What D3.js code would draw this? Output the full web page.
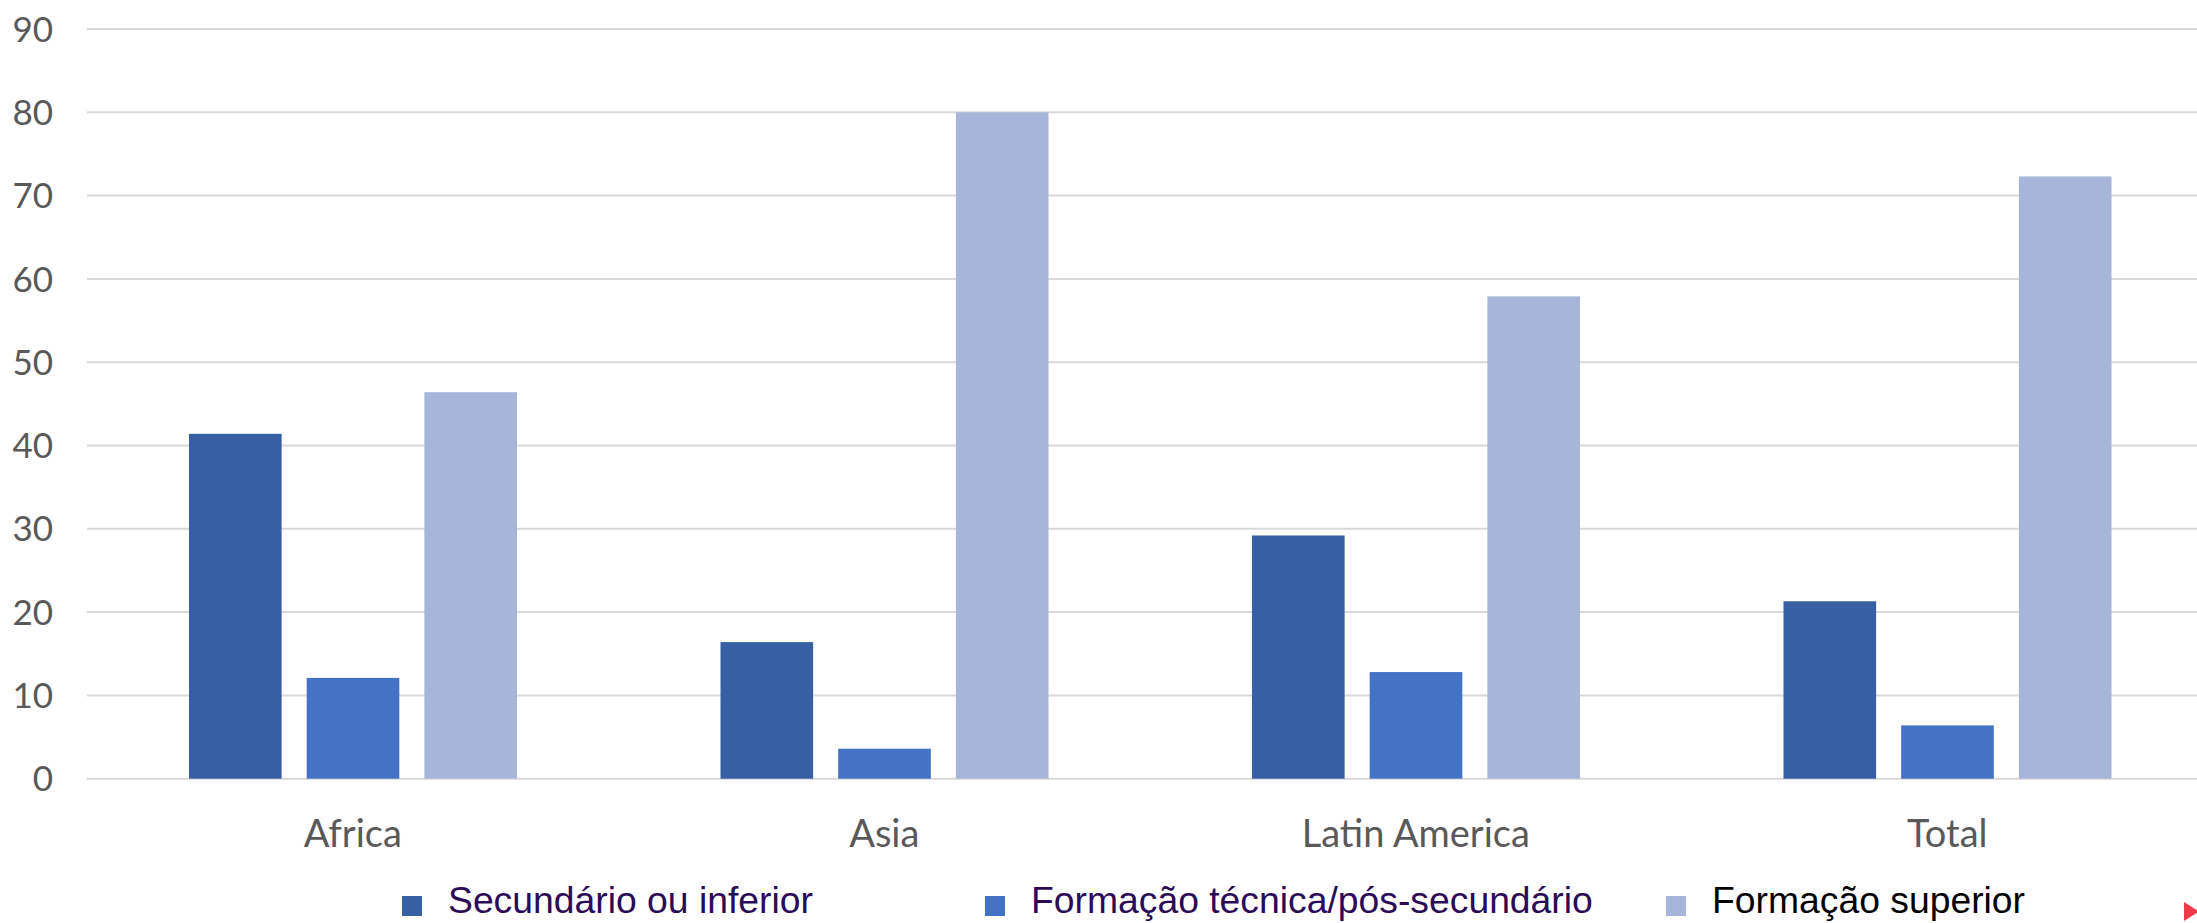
<!DOCTYPE html>
<html>
<head>
<meta charset="utf-8">
<script src="https://cdn.jsdelivr.net/npm/d3@7"></script>
<style>
  html, body { margin: 0; padding: 0; background: #ffffff; }
  svg { display: block; }
</style>
</head>
<body>
<svg id="chart" width="2197" height="923"></svg>
<script>
// ---- data ----
const categories = ["Africa", "Asia", "Latin America", "Total"];
const seriesNames = ["Secundário ou inferior", "Formação técnica/pós-secundário", "Formação superior"];
const secundario = [41.4, 16.4, 29.2, 21.3];
const tecnica = [12.1, 3.6, 12.8, 6.4];
const superior = [46.4, 80.0, 57.9, 72.3];
const yTicks = [0, 10, 20, 30, 40, 50, 60, 70, 80, 90];

const seriesValues = [secundario, tecnica, superior];
const colors = ["#375FA3", "#4472C4", "#A8B5DA"];
const legendTextColors = ["#2B0B57", "#2B0B57", "#000000"];

const svg = d3.select("#chart");

const x0 = d3.scaleBand().domain(categories).range([87, 87 + 4 * 531.5]).paddingInner(0).paddingOuter(0);
const x1 = d3.scaleBand().domain(d3.range(seriesNames.length)).range([102, 430]).paddingInner(0.213).paddingOuter(0);
const y = d3.scaleLinear().domain([0, 90]).range([778.7, 29]);

// gridlines
svg.append("g").selectAll("line").data(yTicks).join("line")
  .attr("x1", 87).attr("x2", 2197)
  .attr("y1", d => y(d)).attr("y2", d => y(d))
  .attr("stroke", "#d9d9d9").attr("stroke-width", 2);

// y tick labels
svg.append("g").selectAll("text").data(yTicks).join("text")
  .attr("x", 53).attr("y", d => y(d))
  .attr("dy", "0.36em")
  .attr("text-anchor", "end")
  .attr("font-family", "Lato, 'Open Sans', sans-serif")
  .attr("font-size", 35)
  .attr("fill", "#595959")
  .text(d => d);

// bars
const groups = svg.append("g").selectAll("g").data(categories).join("g")
  .attr("transform", c => `translate(${x0(c)},0)`);
groups.selectAll("rect").data((c, ci) => seriesValues.map((s, si) => ({ si, v: s[ci] })))
  .join("rect")
  .attr("x", d => x1(d.si))
  .attr("width", x1.bandwidth())
  .attr("y", d => y(d.v))
  .attr("height", d => y(0) - y(d.v))
  .attr("fill", d => colors[d.si]);

// category labels
svg.append("g").selectAll("text").data(categories).join("text")
  .attr("x", c => x0(c) + x0.bandwidth() / 2)
  .attr("y", 847)
  .attr("text-anchor", "middle")
  .attr("font-family", "Lato, 'Open Sans', sans-serif")
  .attr("font-size", 38)
  .attr("fill", "#595959")
  .text(c => c);

// legend
const legendX = [402, 985, 1666];
const legend = svg.append("g").selectAll("g").data(seriesNames).join("g")
  .attr("transform", (d, i) => `translate(${legendX[i]},0)`);
legend.append("rect")
  .attr("x", 0).attr("y", 896).attr("width", 20).attr("height", 20)
  .attr("fill", (d, i) => colors[i]);
legend.append("text")
  .attr("x", 46).attr("y", 912.5)
  .attr("font-family", "'Liberation Sans', Arial, sans-serif")
  .attr("font-size", 37.3)
  .attr("fill", (d, i) => legendTextColors[i])
  .text(d => d);

// small red marker at bottom right
svg.append("path")
  .attr("d", "M2184,902 L2199,911.5 L2184,921 Z")
  .attr("fill", "#F03A4A");
</script>
</body>
</html>
